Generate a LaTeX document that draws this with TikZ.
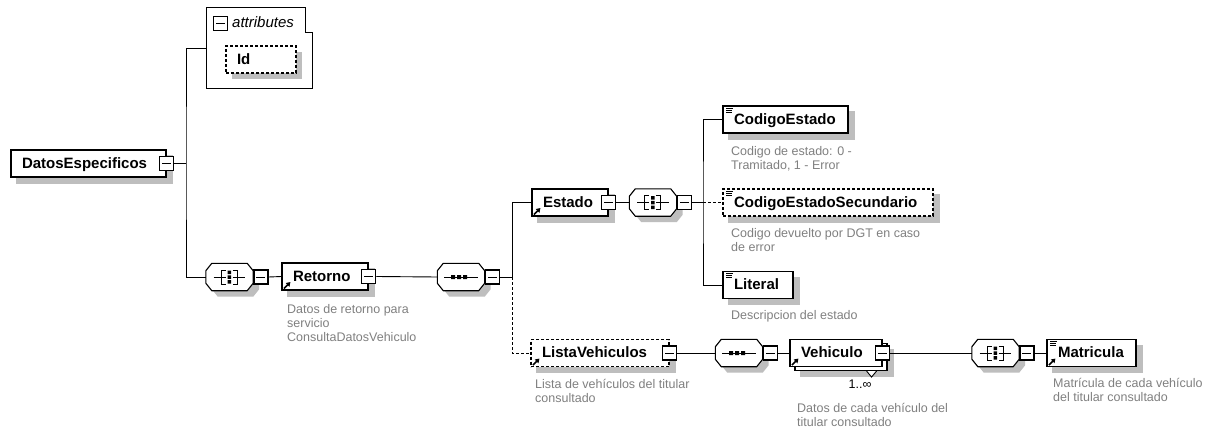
\documentclass[tikz,border=0pt]{standalone}
\usepackage{fontspec}
\setmainfont{Liberation Sans}
\usetikzlibrary{calc,arrows.meta}
\pgfdeclarelayer{bg}
\pgfsetlayers{bg,main}
\definecolor{shadowgray}{RGB}{190,190,190}
\definecolor{descgray}{RGB}{128,128,128}
\newcommand\lblfont{\fontsize{15}{18}\selectfont\bfseries}
\newcommand\dscfont{\fontsize{12.5}{14}\selectfont}
\newcommand\noteicon[1]{\draw[line width=0.8pt] ($(#1.north west)+(4,2.5)$) -- ++(6.5,0) ($(#1.north west)+(4,4.7)$) -- ++(6,0) ($(#1.north west)+(4,6.9)$) -- ++(6,0);}
\newcommand\refarrow[1]{\draw[line width=1.5pt,-{Triangle[length=4pt,width=5pt]}] ($(#1.south west)+(2.5,-2)$) -- ++(6.5,-6.5);}
\newcommand\boxshadow[1]{\fill[shadowgray] ($(#1.north west)+(6,6)$) rectangle ($(#1.south east)+(6,6)$);}
\newcommand\octo[1]{%
 \fill[shadowgray] ($(#1.north west)+(12,6)$) -- ($(#1.north east)+(0,6)$) -- ($(#1.north east)+(6,13.5)$) -- ($(#1.south east)+(6,-1.5)$) -- ($(#1.south east)+(0,6)$) -- ($(#1.south west)+(12,6)$) -- ($(#1.south west)+(6,-1.5)$) -- ($(#1.north west)+(6,13.5)$) -- cycle;
 \draw[boxline,fill=white] ($(#1.north west)+(6,0)$) -- ($(#1.north east)+(-6,0)$) -- ($(#1.north east)+(0,7.5)$) -- ($(#1.south east)+(0,-7.5)$) -- ($(#1.south east)+(-6,0)$) -- ($(#1.south west)+(6,0)$) -- ($(#1.south west)+(0,-7.5)$) -- ($(#1.north west)+(0,7.5)$) -- cycle;}
\newcommand\choiceicon[1]{%
 \draw[line width=0.9pt] ($(#1)+(-16,0)$) -- ($(#1)+(-4,0)$) ($(#1)+(-4,-7)$) -- ($(#1)+(-8.5,-7)$) -- ($(#1)+(-8.5,7)$) -- ($(#1)+(-4,7)$)
  ($(#1)+(3,-7)$) -- ($(#1)+(7.5,-7)$) -- ($(#1)+(7.5,7)$) -- ($(#1)+(3,7)$) ($(#1)+(3,0)$) -- ($(#1)+(15.5,0)$);
 \fill ($(#1)+(-2,-6.5)$) rectangle ++(3.5,3.5) ($(#1)+(-2,-1.75)$) rectangle ++(3.5,3.5) ($(#1)+(-2,3)$) rectangle ++(3.5,3.5);}
\newcommand\seqicon[1]{%
 \draw[line width=0.9pt] ($(#1)+(-17,0)$) -- ($(#1)+(17,0)$);
 \fill ($(#1)+(-10,-2)$) rectangle ++(4,4) ($(#1)+(-4,-2)$) rectangle ++(4,4) ($(#1)+(2,-2)$) rectangle ++(4,4);}
\tikzset{
 boxline/.style={line width=1.1pt},
 conn/.style={line width=0.9pt},
 el/.style={draw, boxline, fill=white, minimum height=27pt, inner xsep=11pt, inner ysep=0pt, text height=12pt, text depth=2.5pt, align=left, font=\lblfont},
 opt/.style={dash pattern=on 3pt off 2pt},
 minus/.style={draw, line width=1.4pt, fill=white, minimum size=14pt, inner sep=0pt, path picture={\draw[line width=0.9pt] ([xshift=2.5pt]path picture bounding box.west) -- ([xshift=-2.5pt]path picture bounding box.east);}},
 comp/.style={minimum width=47pt, minimum height=27pt, inner sep=0pt},
 desc/.style={anchor=north west, inner sep=0pt, align=left, font=\dscfont, text=descgray},
}
\begin{document}
\begin{tikzpicture}[x=1pt,y=-1pt]
\useasboundingbox (0,0) rectangle (1211,428);
% root
\node[el, text width=133pt] (dem) at (88.5,163.5) {DatosEspecificos};
\node[minus] (demm) at (dem.east) {};
% attributes
\node[minimum width=105pt, minimum height=80pt, inner sep=0pt] (attr) at (259.5,48) {};
\draw[boxline, fill=white] (attr.north west) -- ($(attr.north east)+(-7,0)$) -- ($(attr.north east)+(-7,25)$) -- ($(attr.north east)+(0,25)$) -- (attr.south east) -- (attr.south west) -- cycle;
\node[minus] (attrm) at (220.5,23.5) {};
\node[anchor=west, inner sep=0pt, font=\fontsize{15}{18}\selectfont\itshape] (attrt) at (232,22.5) {attributes};
\fill[shadowgray] (232,52) rectangle (302,79);
\node[el, opt, text width=48pt] (id) at (261,59.5) {Id};
% choice 1
\node[comp] (c1) at (229.5,277) {};
\octo{c1}
\choiceicon{c1}
\node[minus, anchor=west] (c1m) at (c1.east) {};
% Retorno
\node[el, text width=64pt] (ret) at (325,276.5) {Retorno};
\refarrow{ret}
\node[minus] (retm) at (ret.east) {};
% sequence 2
\node[comp] (c2) at (461,277) {};
\octo{c2}
\seqicon{c2}
\node[minus, anchor=west] (c2m) at (c2.east) {};
% Estado
\node[el, text width=54pt] (est) at (570,202.5) {Estado};
\refarrow{est}
\node[minus] (estm) at (est.east) {};
% choice 3
\node[comp] (c3) at (653,202.5) {};
\octo{c3}
\choiceicon{c3}
\node[minus, anchor=west] (c3m) at (c3.east) {};
% Estado children
\node[el, text width=103pt] (ce) at (785.5,119.5) {CodigoEstado};
\noteicon{ce}
\node[el, opt, text width=188pt] (ces) at (828,202.5) {CodigoEstadoSecundario};
\noteicon{ces}
\node[el, text width=48pt] (lit) at (758,285) {Literal};
\noteicon{lit}
% ListaVehiculos
\node[el, opt, text width=116pt] (lista) at (600,353) {ListaVehiculos};
\refarrow{lista}
\node[minus] (listam) at (lista.east) {};
% sequence 4
\node[comp] (c4) at (739,353) {};
\octo{c4}
\seqicon{c4}
\node[minus, anchor=west] (c4m) at (c4.east) {};
% Vehiculo (multiple)
\node[el, text width=70pt] (vehb) at (841,357) {};
\draw[conn, fill=white] ($(vehb.south east)+(-21,0)$) -- ++(5,6) -- ++(5,-6);
\node[el, text width=70pt] (veh) at (836,353) {Vehiculo};
\refarrow{veh}
\node[minus] (vehm) at (veh.east) {};
\node[font=\dscfont, inner sep=0pt] (card) at (860,384) {1..∞};
% choice 5
\node[comp] (c5) at (995.5,353) {};
\octo{c5}
\choiceicon{c5}
\node[minus, anchor=west] (c5m) at (c5.east) {};
% Matricula
\node[el, text width=67pt] (mat) at (1091.5,353) {Matricula};
\noteicon{mat}
\refarrow{mat}
% shadows behind element boxes
\begin{pgfonlayer}{bg}
\fill[white] (0,0) rectangle (1211,428);
\boxshadow{dem}
\boxshadow{ret}
\boxshadow{est}
\boxshadow{ce}
\boxshadow{ces}
\boxshadow{lit}
\boxshadow{lista}
\boxshadow{vehb}
\boxshadow{mat}
\end{pgfonlayer}
% descriptions
\node[desc] (dret) at (287,304.5) {Datos de retorno para\\servicio\\ConsultaDatosVehiculo};
\node[desc] (dce) at (731,146) {Codigo de estado: 0 -\\Tramitado, 1 - Error};
\node[desc] (dces) at (731,228) {Codigo devuelto por DGT en caso\\de error};
\node[desc] (dlit) at (731,310) {Descripcion del estado};
\node[desc] (dlista) at (535,379) {Lista de vehículos del titular\\consultado};
\node[desc] (dveh) at (797,403) {Datos de cada vehículo del\\titular consultado};
\node[desc] (dmat) at (1053,378) {Matrícula de cada vehículo\\del titular consultado};
% connectors
\coordinate (j1) at (186,163.5);
\draw[conn] (demm.east) -- (j1);
\draw[conn] (attr.west) -| (j1) |- (c1.west);
\draw[conn] (c1m.east) -- (ret.west);
\draw[conn] (retm.east) -- (c2.west);
\coordinate (j2) at (512,277);
\draw[conn] (c2m.east) -- (j2) |- (est.west);
\draw[conn, opt] (j2) |- (lista.west);
\draw[conn] (estm.east) -- (c3.west);
\coordinate (j3) at (703,202.5);
\draw[conn] (c3m.east) -- (j3);
\draw[conn] (ce.west) -| (j3) |- (lit.west);
\draw[conn, opt] (j3) -- (ces.west);
\draw[conn] (listam.east) -- (c4.west);
\draw[conn] (c4m.east) -- (veh.west);
\draw[conn] (vehm.east) -- (c5.west);
\draw[conn] (c5m.east) -- (mat.west);
\end{tikzpicture}
\end{document}
